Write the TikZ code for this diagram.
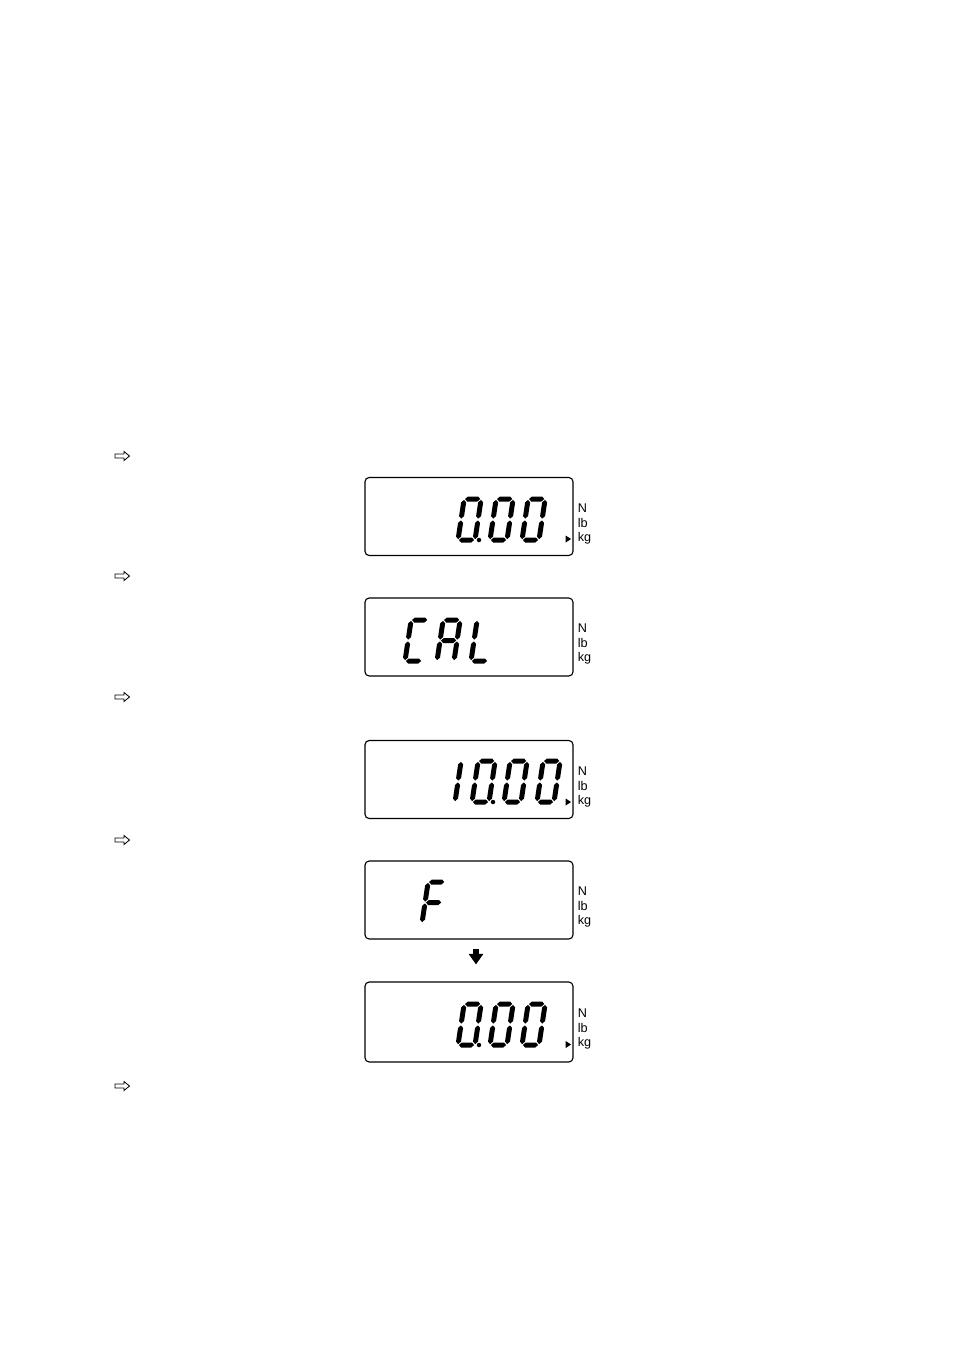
\documentclass[tikz,border=0pt]{standalone}
\usepackage{fontspec}
\setmainfont{Liberation Sans}
\usetikzlibrary{arrows.meta,positioning}

% one lcd bar, horizontal (x1, x2, y) or vertical (x, y1, y2)
\newcommand{\lcdhbar}[3]{\fill (#1,#3) -- (#1+2.5,#3-2.5) -- (#2-2.5,#3-2.5) -- (#2,#3) -- (#2-2.5,#3+2.5) -- (#1+2.5,#3+2.5) -- cycle;}
\newcommand{\lcdvbar}[3]{\fill (#1,#2) -- (#1+2.5,#2+2.5) -- (#1+2.5,#3-2.5) -- (#1,#3) -- (#1-2.5,#3-2.5) -- (#1-2.5,#2+2.5) -- cycle;}
% seven segment parts, local origin = bottom left of a character
\newcommand{\segA}{\lcdhbar{0.9}{16.1}{-41}}
\newcommand{\segB}{\lcdvbar{17}{-40.1}{-21.4}}
\newcommand{\segC}{\lcdvbar{17}{-19.6}{-0.9}}
\newcommand{\segD}{\lcdhbar{0.9}{16.1}{0}}
\newcommand{\segE}{\lcdvbar{0}{-19.6}{-0.9}}
\newcommand{\segF}{\lcdvbar{0}{-40.1}{-21.4}}
\newcommand{\segG}{\lcdhbar{0.9}{16.1}{-20.5}}
\newcommand{\lcdchar}[3]{\begin{scope}[shift={(#1,#2)},xslant=0.15] #3 \end{scope}}
\newcommand{\lcdzero}[2]{\lcdchar{#1}{#2}{\segA\segB\segC\segD\segE\segF}}

\begin{document}
\begin{tikzpicture}[
    x=0.025cm, y=-0.025cm,
    display/.style={rectangle, draw=black, line width=0.8pt, rounded corners=3pt, minimum width=5.2cm, minimum height=1.95cm, inner sep=0pt},
    unit/.style={font=\fontsize{9}{10}\selectfont, inner sep=0pt, anchor=base west},
    hint/.style={draw=black, line width=0.6pt, fill=white, line join=miter},
    fatarrow/.style={-{Triangle[width=10pt,length=7.5pt]}, line width=4.3pt}
]
\useasboundingbox (0,0) rectangle (954,1350);

% displays
\node [display] (disp1) at (469,516.5) {};
\node [display] (disp2) at (469,637) {};
\node [display] (disp3) at (469,779.5) {};
\node [display] (disp4) at (469,900) {};
\node [display, minimum height=2cm] (disp5) at (469,1022) {};

% unit labels
\foreach \d in {1,...,5} {
  \node [unit] (n\d) at ([shift={(4,-4.5)}]disp\d.east) {N};
  \node [unit] (lb\d) at ([shift={(4,10.5)}]disp\d.east) {lb};
  \node [unit] (kg\d) at ([shift={(4,24.5)}]disp\d.east) {kg};
}

% unit pointer (kg)
\foreach \d in {1,3,5} {
  \fill ([shift={(-8,19)}]disp\d.east) -- ([shift={(-2.5,22.5)}]disp\d.east) -- ([shift={(-8,26)}]disp\d.east) -- cycle;
}

% 0.00
\lcdzero{458}{540}
\fill (479,540) circle (1.6pt);
\lcdzero{490}{540}
\lcdzero{522}{540}

% CAL
\lcdchar{405}{661}{\segA\segD\segE\segF}
\lcdchar{437}{661}{\segA\segB\segC\segE\segF\segG}
\lcdchar{471}{661}{\segD\segE\segF}

% 10.00
\lcdchar{438}{802}{\segB\segC}
\lcdzero{472}{802}
\fill (493,802) circle (1.6pt);
\lcdzero{504}{802}
\lcdzero{537}{802}

% F
\lcdchar{422}{923}{\segA\segE\segF\segG}

% 0.00
\lcdzero{458}{1045}
\fill (479,1045) circle (1.6pt);
\lcdzero{490}{1045}
\lcdzero{522}{1045}

% step markers
\foreach \y in {456,576,697,840,1086} {
  \draw [hint] (115,\y-2) -- (124,\y-2) -- (124,\y-4.5) -- (129.5,\y) -- (124,\y+4.5) -- (124,\y+2) -- (115,\y+2) -- cycle;
}

% arrow
\draw [fatarrow] ([shift={(7,9)}]disp4.south) -- ([shift={(7,-17)}]disp5.north);

\end{tikzpicture}
\end{document}
